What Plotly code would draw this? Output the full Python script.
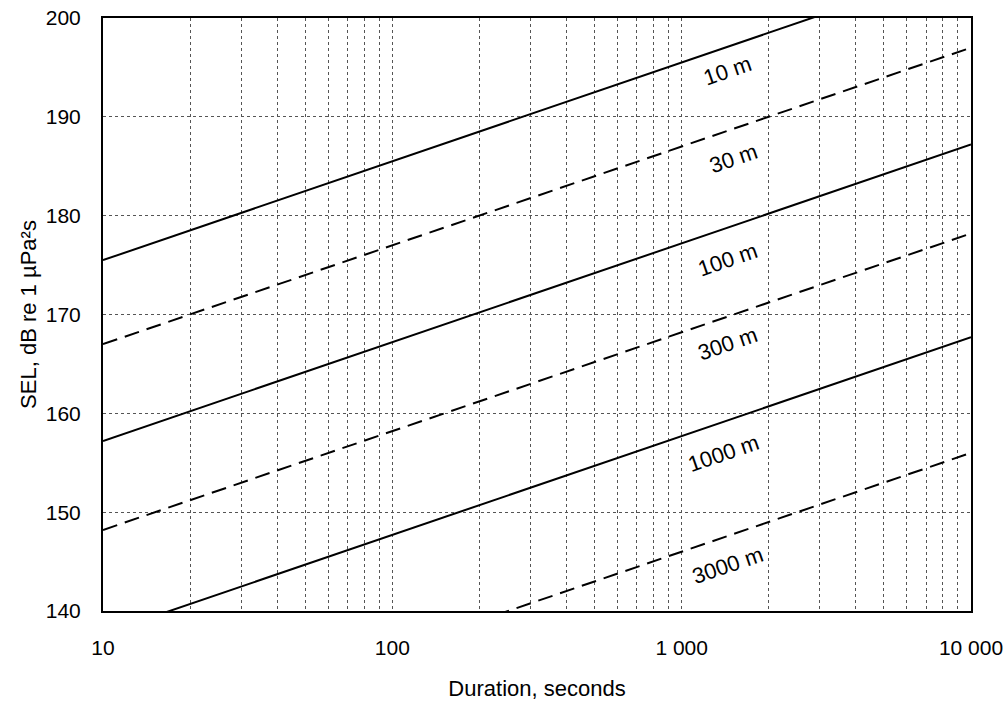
import math
import plotly.graph_objects as go

# Data
distances = ["10 m", "30 m", "100 m", "300 m", "1000 m", "3000 m"]
durations = [10, 10000]
sel_at_10s = [175.5, 167.0, 157.2, 148.2, 137.7, 126.0]
sel_at_10000s = [205.5, 197.0, 187.2, 178.2, 167.7, 156.0]
line_dash = ["solid", "15px,8px", "solid", "15px,8px", "solid", "15px,8px"]
label_x = [1445, 1507, 1445, 1445, 1390, 1435]
label_y = [194.7, 185.8, 175.6, 167.1, 155.9, 144.6]

x_tickvals = [10, 100, 1000, 10000]
x_ticktext = ["10", "100", "1 000", "10 000"]
x_minor = [m * d for d in (10, 100, 1000) for m in range(2, 10)]
y_tickvals = [140, 150, 160, 170, 180, 190, 200]

FONT = "Liberation Sans, Arial, sans-serif"

fig = go.Figure()
for name, a, b, dash in zip(distances, sel_at_10s, sel_at_10000s, line_dash):
    fig.add_trace(go.Scatter(
        x=durations, y=[a, b], mode="lines", name=name,
        line=dict(color="black", width=2, dash=dash),
        showlegend=False,
    ))

for name, lx, ly in zip(distances, label_x, label_y):
    fig.add_annotation(
        x=math.log10(lx), y=ly, text=name, showarrow=False,
        textangle=-19, font=dict(size=22, color="black", family=FONT),
    )

grid_color = "#555555"
fig.update_xaxes(
    type="log", range=[1, 4], automargin=False,
    tickmode="array", tickvals=x_tickvals, ticktext=x_ticktext,
    showgrid=True, gridcolor=grid_color, griddash="dot", gridwidth=1,
    minor=dict(tickmode="array", tickvals=x_minor, showgrid=True,
               gridcolor=grid_color, griddash="dot", gridwidth=1, ticks=""),
    showline=True, linecolor="black", linewidth=2, mirror=True,
    ticks="", ticklabelstandoff=17,
    tickfont=dict(size=21, color="black", family=FONT),
    title=dict(text="Duration, seconds", font=dict(size=22, color="black", family=FONT), standoff=22),
    zeroline=False,
)
fig.update_yaxes(
    range=[140, 200], automargin=False, tickmode="array", tickvals=y_tickvals,
    showgrid=True, gridcolor=grid_color, griddash="dot", gridwidth=1,
    showline=True, linecolor="black", linewidth=2, mirror=True,
    ticks="", ticklabelstandoff=16,
    tickfont=dict(size=21, color="black", family=FONT),
    title=dict(text="SEL, dB re 1 µPa²s", font=dict(size=22, color="black", family=FONT), standoff=3),
    zeroline=False,
)
fig.update_layout(
    width=1007, height=704,
    margin=dict(l=103, r=36, t=18, b=93),
    paper_bgcolor="white", plot_bgcolor="white",
    font=dict(family=FONT, color="black"),
)
fig.write_html("out.html", config={"displayModeBar": False},
               post_script="document.body.style.margin='0';")
